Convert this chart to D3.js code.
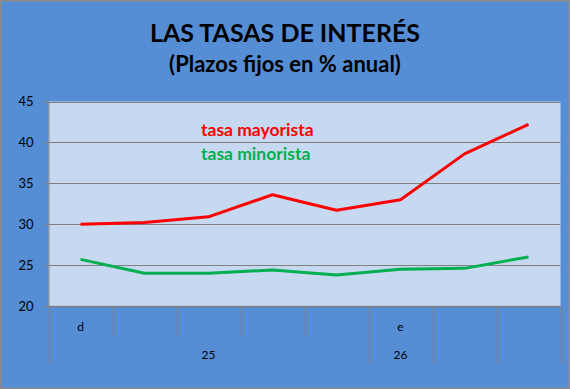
<!DOCTYPE html>
<html>
<head>
<meta charset="utf-8">
<script src="https://cdn.jsdelivr.net/npm/d3@7"></script>
<style>
  html, body { margin: 0; padding: 0; background: #fff; }
</style>
</head>
<body>
<svg id="chart"></svg>
<script>
const width = 570;
const height = 389;

// data
const categories = ["d", "", "", "", "", "e", "", ""];
const groups = [
  {label: "25", span: 5},
  {label: "26", span: 1},
  {label: "", span: 1},
  {label: "", span: 1}
];
const mayorista = [30.0, 30.2, 30.9, 33.6, 31.7, 33.0, 38.6, 42.2];
const minorista = [25.7, 24.0, 24.0, 24.4, 23.8, 24.5, 24.6, 26.0];
const yTicks = [20, 25, 30, 35, 40, 45];

const margin = {top: 101.5, right: 9.5, bottom: 83, left: 48.5};
const fontFamily = "Lato, 'Open Sans', sans-serif";
const axisGrey = "#808080";

const svg = d3.select("#chart")
  .attr("width", width)
  .attr("height", height)
  .attr("viewBox", [0, 0, width, height]);

// outer chart area
svg.append("rect")
  .attr("x", 0.75).attr("y", 0.75)
  .attr("width", width - 1.5).attr("height", height - 1.5)
  .attr("fill", "#558ED5")
  .attr("stroke", "#8a8a8a")
  .attr("stroke-width", 1.5);

// titles
svg.append("text")
  .attr("x", 285).attr("y", 42)
  .attr("text-anchor", "middle")
  .attr("font-family", fontFamily)
  .attr("font-weight", "bold")
  .attr("font-size", 25)
  .attr("fill", "#000")
  .text("LAS TASAS DE INTERÉS");

svg.append("text")
  .attr("x", 285).attr("y", 72)
  .attr("text-anchor", "middle")
  .attr("font-family", fontFamily)
  .attr("font-weight", "bold")
  .attr("font-size", 22)
  .attr("fill", "#000")
  .text("(Plazos fijos en % anual)");

const x = d3.scaleBand()
  .domain(d3.range(categories.length))
  .range([margin.left, width - margin.right]);

const y = d3.scaleLinear()
  .domain([20, 45])
  .range([height - margin.bottom, margin.top]);

const x0 = x.range()[0], x1 = x.range()[1], step = x.step();

// plot area
svg.append("rect")
  .attr("x", x0).attr("y", y(45))
  .attr("width", x1 - x0)
  .attr("height", y(20) - y(45))
  .attr("fill", "#C6D9F1");

// gridlines
svg.append("g")
  .selectAll("line")
  .data(yTicks.slice(1))
  .join("line")
  .attr("x1", x0).attr("x2", x1)
  .attr("y1", d => Math.round(y(d)) + 0.5)
  .attr("y2", d => Math.round(y(d)) + 0.5)
  .attr("stroke", axisGrey)
  .attr("stroke-width", 1);

// y axis
const yAxis = svg.append("g")
  .attr("transform", `translate(${x0},0)`)
  .call(d3.axisLeft(y).tickValues(yTicks).tickSize(5).tickPadding(10));
yAxis.select(".domain").attr("stroke", axisGrey);
yAxis.selectAll(".tick line").attr("stroke", axisGrey);
yAxis.selectAll("text")
  .attr("font-family", fontFamily)
  .attr("font-size", 13)
  .attr("fill", "#000");

// x axis, two levels of categories
const base = Math.round(y(20)) + 0.5;
svg.append("line")
  .attr("x1", x0).attr("x2", x1)
  .attr("y1", base).attr("y2", base)
  .attr("stroke", axisGrey)
  .attr("stroke-width", 1.5);

const boundaries = [0];
groups.reduce((acc, g) => { boundaries.push(acc + g.span); return acc + g.span; }, 0);

svg.append("g")
  .attr("class", "x-ticks")
  .selectAll("line")
  .data(d3.range(categories.length + 1))
  .join("line")
  .attr("x1", d => Math.round(x0 + d * step) + 0.5)
  .attr("x2", d => Math.round(x0 + d * step) + 0.5)
  .attr("y1", base)
  .attr("y2", d => boundaries.includes(d) ? base + 57 : base + 30)
  .attr("stroke", axisGrey)
  .attr("stroke-width", 1.2);

svg.append("g")
  .selectAll("text")
  .data(categories)
  .join("text")
  .attr("x", (d, i) => x(i) + x.bandwidth() / 2)
  .attr("y", base + 24)
  .attr("text-anchor", "middle")
  .attr("font-family", fontFamily)
  .attr("font-size", 12)
  .attr("fill", "#000")
  .text(d => d);

svg.append("g")
  .selectAll("text")
  .data(groups)
  .join("text")
  .attr("x", (d, i) => x0 + (boundaries[i] + d.span / 2) * step)
  .attr("y", base + 52)
  .attr("text-anchor", "middle")
  .attr("font-family", fontFamily)
  .attr("font-size", 12)
  .attr("fill", "#000")
  .text(d => d.label);

// series lines
const line = d3.line()
  .x((d, i) => x(i) + x.bandwidth() / 2)
  .y(d => y(d));

svg.append("path")
  .datum(minorista)
  .attr("d", line)
  .attr("fill", "none")
  .attr("stroke", "#00B050")
  .attr("stroke-width", 3)
  .attr("stroke-linejoin", "round");

svg.append("path")
  .datum(mayorista)
  .attr("d", line)
  .attr("fill", "none")
  .attr("stroke", "#FF0000")
  .attr("stroke-width", 3)
  .attr("stroke-linejoin", "round");

// legend text inside the plot
svg.append("text")
  .attr("x", 201).attr("y", 136)
  .attr("font-family", fontFamily)
  .attr("font-weight", "bold")
  .attr("font-size", 17.5)
  .attr("fill", "#FF0000")
  .text("tasa mayorista");

svg.append("text")
  .attr("x", 201).attr("y", 159.5)
  .attr("font-family", fontFamily)
  .attr("font-weight", "bold")
  .attr("font-size", 17.5)
  .attr("fill", "#00B050")
  .text("tasa minorista");
</script>
</body>
</html>
